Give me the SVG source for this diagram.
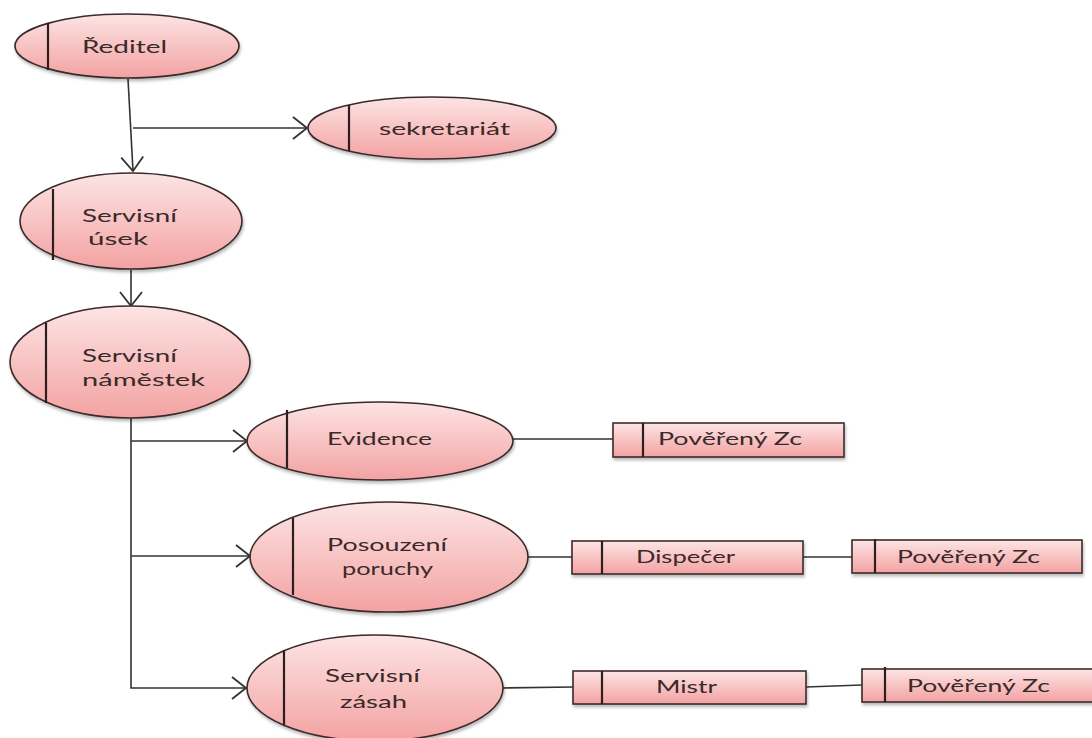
<svg xmlns="http://www.w3.org/2000/svg" width="1092" height="738" viewBox="0 0 1092 738">
<defs>
<linearGradient id="pink" x1="0" y1="0" x2="0" y2="1">
<stop offset="0" stop-color="#fde4e4"/>
<stop offset="1" stop-color="#f3a2a2"/>
</linearGradient>
<filter id="sh" x="-10%" y="-20%" width="120%" height="150%">
<feDropShadow dx="1" dy="2.5" stdDeviation="1.5" flood-color="#000" flood-opacity="0.28"/>
</filter>
<marker id="arr" markerUnits="userSpaceOnUse" markerWidth="30" markerHeight="30" refX="15" refY="12" orient="auto">
<path d="M1,1 L15,12 L1,23" fill="none" stroke="#333" stroke-width="1.8"/>
</marker>
</defs>
<style>
.shape{fill:url(#pink);stroke:#3b2a2a;stroke-width:1.6;filter:url(#sh)}
.bar{stroke:#2d1f1f;stroke-width:2.2}
.lbl{font-family:Lato,"Liberation Sans",sans-serif;font-size:18px;fill:#3a2a2a}
.con{fill:none;stroke:#333;stroke-width:1.6}
</style>
<rect width="1092" height="738" fill="#fff"/>
<g id="connectors">
<path class="con" d="M128,79 L133,171" marker-end="url(#arr)"/>
<path class="con" d="M133,128 L307,128" marker-end="url(#arr)"/>
<path class="con" d="M131,270 L131,306" marker-end="url(#arr)"/>
<path class="con" d="M131,418 L131,688 L246,688" marker-end="url(#arr)"/>
<path class="con" d="M131,441 L247,441" marker-end="url(#arr)"/>
<path class="con" d="M131,556 L250,556" marker-end="url(#arr)"/>
<path class="con" d="M513,439 L613,439"/>
<path class="con" d="M528,557 L572,557"/>
<path class="con" d="M803,557 L852,557"/>
<path class="con" d="M502,688 L573,687"/>
<path class="con" d="M806,687 L862,685"/>
</g>
<g id="reditel">
<ellipse class="shape" cx="127" cy="46" rx="112" ry="32"/>
<line class="bar" x1="48" y1="23" x2="48" y2="70"/>
<text class="lbl" x="82" y="53" textLength="85" lengthAdjust="spacingAndGlyphs">Ředitel</text>
</g>
<g id="sekretariat">
<ellipse class="shape" cx="432" cy="128" rx="124" ry="31"/>
<line class="bar" x1="349" y1="105" x2="349" y2="151"/>
<text class="lbl" x="379" y="135" textLength="131" lengthAdjust="spacingAndGlyphs">sekretariát</text>
</g>
<g id="servisni-usek">
<ellipse class="shape" cx="131" cy="221" rx="111" ry="48"/>
<line class="bar" x1="53" y1="189" x2="53" y2="260"/>
<text class="lbl" x="82" y="222" textLength="95" lengthAdjust="spacingAndGlyphs">Servisní</text>
<text class="lbl" x="88" y="245" textLength="60" lengthAdjust="spacingAndGlyphs">úsek</text>
</g>
<g id="servisni-namestek">
<ellipse class="shape" cx="130" cy="362" rx="120" ry="56"/>
<line class="bar" x1="46" y1="323" x2="46" y2="403"/>
<text class="lbl" x="82" y="362" textLength="95" lengthAdjust="spacingAndGlyphs">Servisní</text>
<text class="lbl" x="82" y="386" textLength="123" lengthAdjust="spacingAndGlyphs">náměstek</text>
</g>
<g id="evidence">
<ellipse class="shape" cx="380" cy="441" rx="133" ry="39"/>
<line class="bar" x1="287" y1="410" x2="287" y2="468"/>
<text class="lbl" x="327" y="445" textLength="105" lengthAdjust="spacingAndGlyphs">Evidence</text>
</g>
<g id="posouzeni">
<ellipse class="shape" cx="389" cy="557" rx="139" ry="55"/>
<line class="bar" x1="293" y1="518" x2="293" y2="595"/>
<text class="lbl" x="327" y="551" textLength="120" lengthAdjust="spacingAndGlyphs">Posouzení</text>
<text class="lbl" x="342" y="575" textLength="91" lengthAdjust="spacingAndGlyphs">poruchy</text>
</g>
<g id="servisni-zasah">
<ellipse class="shape" cx="375" cy="688" rx="128" ry="53"/>
<line class="bar" x1="284" y1="650" x2="284" y2="725"/>
<text class="lbl" x="325" y="682" textLength="95" lengthAdjust="spacingAndGlyphs">Servisní</text>
<text class="lbl" x="340" y="708" textLength="67" lengthAdjust="spacingAndGlyphs">zásah</text>
</g>
<g id="povereny-zc-1">
<rect class="shape" x="613" y="423" width="231" height="34"/>
<line class="bar" x1="643" y1="423" x2="643" y2="457"/>
<text class="lbl" x="658" y="445" textLength="144" lengthAdjust="spacingAndGlyphs">Pověřený Zc</text>
</g>
<g id="dispecer">
<rect class="shape" x="572" y="541" width="231" height="33"/>
<line class="bar" x1="602" y1="541" x2="602" y2="574"/>
<text class="lbl" x="636" y="563" textLength="99" lengthAdjust="spacingAndGlyphs">Dispečer</text>
</g>
<g id="povereny-zc-2">
<rect class="shape" x="852" y="540" width="230" height="33"/>
<line class="bar" x1="875" y1="539" x2="875" y2="573"/>
<text class="lbl" x="897" y="563" textLength="143" lengthAdjust="spacingAndGlyphs">Pověřený Zc</text>
</g>
<g id="mistr">
<rect class="shape" x="573" y="671" width="233" height="33"/>
<line class="bar" x1="602" y1="671" x2="602" y2="704"/>
<text class="lbl" x="656" y="693" textLength="61" lengthAdjust="spacingAndGlyphs">Mistr</text>
</g>
<g id="povereny-zc-3">
<rect class="shape" x="862" y="669" width="240" height="33"/>
<line class="bar" x1="885" y1="667" x2="885" y2="702"/>
<text class="lbl" x="907" y="692" textLength="143" lengthAdjust="spacingAndGlyphs">Pověřený Zc</text>
</g>
</svg>
